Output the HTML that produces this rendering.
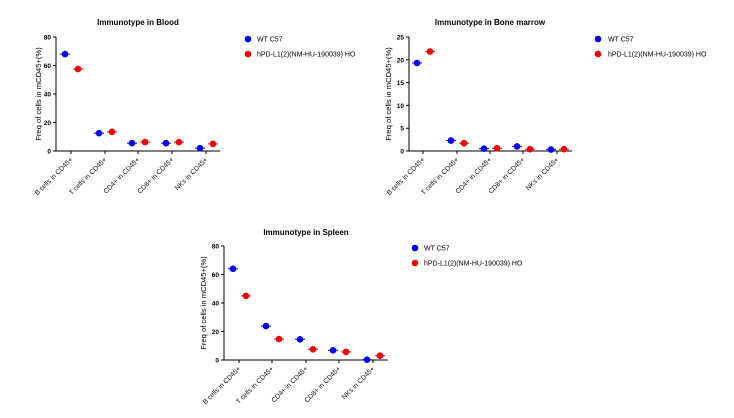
<!DOCTYPE html>
<html><head><style>
body{margin:0;background:#fff}
svg{display:block;font-family:"Liberation Sans",Arial,sans-serif}
.t{font-size:8px;font-weight:bold}
.tk{font-size:6.5px;font-weight:bold}
.lb{font-size:6.8px;fill:#111}
.yl{font-size:7.6px}
.lg{font-size:7px}
.b{fill:#0000f0}.r{fill:#f00000}
</style></head><body>
<svg width="734" height="418" viewBox="0 0 734 418">
<defs>
<g id="B"><line x1="-5" x2="5" y1="0" y2="0" stroke="#0000f0" stroke-width="1"/><circle r="3.3" class="b"/></g>
<g id="R"><line x1="-5" x2="5" y1="0" y2="0" stroke="#f00000" stroke-width="1"/><circle r="3.3" class="r"/></g>
</defs>

<!-- Blood -->
<text class="t" x="138" y="25" text-anchor="middle">Immunotype in Blood</text>
<g stroke="#000" stroke-width="1" fill="none">
<path d="M56,37V151H220"/>
<path d="M53,37h3M53,65.5h3M53,94h3M53,122.5h3M53,151h3"/>
<path d="M71,151v3M105,151v3M138,151v3M172,151v3M206,151v3"/>
</g>
<g class="tk" text-anchor="end"><text x="51" y="39.5">80</text><text x="51" y="68">60</text><text x="51" y="96.5">40</text><text x="51" y="125">20</text><text x="51" y="153.5">0</text></g>
<text class="yl" transform="translate(41,94) rotate(-90)" text-anchor="middle">Freq of cells in mCD45+(%)</text>
<g class="lb" text-anchor="end">
<text transform="translate(73,160) rotate(-45)">B cells in CD45+</text>
<text transform="translate(107,160) rotate(-45)">T cells in CD45+</text>
<text transform="translate(140,160) rotate(-45)">CD4+ in CD45+</text>
<text transform="translate(174,160) rotate(-45)">CD8+ in CD45+</text>
<text transform="translate(208,160) rotate(-45)">NKs in CD45+</text>
</g>
<use href="#B" x="65" y="54.1"/><use href="#B" x="99" y="133.2"/><use href="#B" x="132" y="143.2"/><use href="#B" x="166" y="143.2"/><use href="#B" x="200" y="148.2"/>
<use href="#R" x="78" y="69.1"/><use href="#R" x="112" y="131.8"/><use href="#R" x="145" y="142"/><use href="#R" x="179" y="142.2"/><use href="#R" x="213" y="143.9"/>
<circle cx="248" cy="39" r="3.3" class="b"/><text class="lg" x="257" y="41.5">WT C57</text>
<circle cx="248" cy="54" r="3.3" class="r"/><text class="lg" x="257" y="56.5">hPD-L1(2)(NM-HU-190039) HO</text>

<!-- Bone marrow -->
<text class="t" x="490" y="25" text-anchor="middle">Immunotype in Bone marrow</text>
<g stroke="#000" stroke-width="1" fill="none">
<path d="M409,37V151H572"/>
<path d="M406,37h3M406,59.8h3M406,82.6h3M406,105.4h3M406,128.2h3M406,151h3"/>
<path d="M423,151v3M457,151v3M490,151v3M523,151v3M557,151v3"/>
</g>
<g class="tk" text-anchor="end"><text x="404" y="39.5">25</text><text x="404" y="62.3">20</text><text x="404" y="85.1">15</text><text x="404" y="107.9">10</text><text x="404" y="130.7">5</text><text x="404" y="153.5">0</text></g>
<text class="yl" transform="translate(391,94) rotate(-90)" text-anchor="middle">Freq of cells in mCD45+(%)</text>
<g class="lb" text-anchor="end">
<text transform="translate(425,160) rotate(-45)">B cells in CD45+</text>
<text transform="translate(459,160) rotate(-45)">T cells in CD45+</text>
<text transform="translate(492,160) rotate(-45)">CD4+ in CD45+</text>
<text transform="translate(525,160) rotate(-45)">CD8+ in CD45+</text>
<text transform="translate(559,160) rotate(-45)">NKs in CD45+</text>
</g>
<use href="#B" x="417" y="63"/><use href="#B" x="451" y="140.5"/><use href="#B" x="484" y="148.7"/><use href="#B" x="517" y="146.4"/><use href="#B" x="551" y="149.6"/>
<use href="#R" x="430" y="51.6"/><use href="#R" x="464" y="143.2"/><use href="#R" x="497" y="148.3"/><use href="#R" x="530" y="149.2"/><use href="#R" x="564" y="149.2"/>
<circle cx="598" cy="39" r="3.3" class="b"/><text class="lg" x="608" y="41.5">WT C57</text>
<circle cx="598" cy="54" r="3.3" class="r"/><text class="lg" x="608" y="56.5">hPD-L1(2)(NM-HU-190039) HO</text>

<!-- Spleen -->
<text class="t" x="306" y="235" text-anchor="middle">Immunotype in Spleen</text>
<g stroke="#000" stroke-width="1" fill="none">
<path d="M224,246V360H388"/>
<path d="M221,246h3M221,274.5h3M221,303h3M221,331.5h3M221,360h3"/>
<path d="M239,360v3M272,360v3M306,360v3M339,360v3M373,360v3"/>
</g>
<g class="tk" text-anchor="end"><text x="219" y="248.5">80</text><text x="219" y="277">60</text><text x="219" y="305.5">40</text><text x="219" y="334">20</text><text x="219" y="362.5">0</text></g>
<text class="yl" transform="translate(206,303) rotate(-90)" text-anchor="middle">Freq of cells in mCD45+(%)</text>
<g class="lb" text-anchor="end">
<text transform="translate(241,369) rotate(-45)">B cells in CD45+</text>
<text transform="translate(274,369) rotate(-45)">T cells in CD45+</text>
<text transform="translate(308,369) rotate(-45)">CD4+ in CD45+</text>
<text transform="translate(341,369) rotate(-45)">CD8+ in CD45+</text>
<text transform="translate(375,369) rotate(-45)">NKs in CD45+</text>
</g>
<use href="#B" x="233" y="268.8"/><use href="#B" x="266" y="326.1"/><use href="#B" x="300" y="339.3"/><use href="#B" x="333" y="350.3"/><use href="#B" x="367" y="359.7"/>
<use href="#R" x="246" y="295.9"/><use href="#R" x="279" y="339.1"/><use href="#R" x="313" y="349.3"/><use href="#R" x="346" y="351.9"/><use href="#R" x="380" y="355.7"/>
<circle cx="415" cy="248" r="3.3" class="b"/><text class="lg" x="424" y="250.5">WT C57</text>
<circle cx="415" cy="263" r="3.3" class="r"/><text class="lg" x="424" y="265.5">hPD-L1(2)(NM-HU-190039) HO</text>
</svg>
</body></html>
